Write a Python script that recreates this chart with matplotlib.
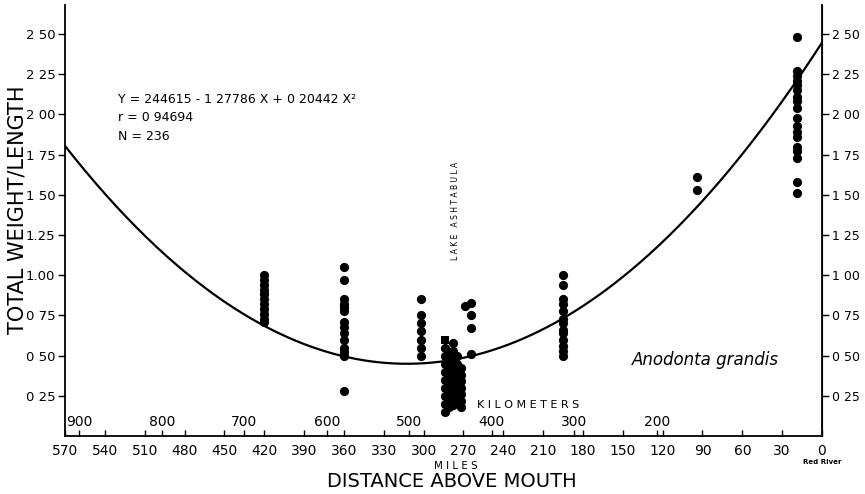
import numpy as np
from matplotlib import pyplot as plt

# curve coefficients as printed on the chart (X in hundreds of miles)
coef = [2.44615, -1.27786, 0.20442]

# data columns: distance above mouth (miles) and total weight / length
miles = (
  [420] * 11 + [360] * 14 + [302] * 7
  + [284] * 9 + [281] * 8 + [278] * 10 + [275] * 8 + [272] * 7
  + [269, 264, 264, 264, 264]
  + [195] * 13 + [94, 94] + [19] * 18
)
ratio = (
  [1.00, 0.97, 0.94, 0.91, 0.88, 0.85, 0.82, 0.79, 0.76, 0.73, 0.71]
  + [1.05, 0.97, 0.85, 0.82, 0.80, 0.78, 0.71, 0.68, 0.64, 0.60, 0.55, 0.52, 0.50, 0.28]
  + [0.85, 0.75, 0.70, 0.65, 0.60, 0.55, 0.50]
  + [0.55, 0.50, 0.45, 0.40, 0.35, 0.30, 0.25, 0.20, 0.15]
  + [0.52, 0.47, 0.42, 0.38, 0.33, 0.28, 0.23, 0.18]
  + [0.58, 0.53, 0.48, 0.44, 0.39, 0.35, 0.31, 0.27, 0.22, 0.19]
  + [0.50, 0.45, 0.41, 0.37, 0.33, 0.29, 0.25, 0.21]
  + [0.42, 0.38, 0.34, 0.30, 0.26, 0.22, 0.18]
  + [0.81, 0.83, 0.75, 0.67, 0.51]
  + [1.00, 0.94, 0.85, 0.82, 0.78, 0.73, 0.70, 0.66, 0.64, 0.60, 0.56, 0.53, 0.50]
  + [1.61, 1.53]
  + [2.48, 2.27, 2.24, 2.21, 2.18, 2.15, 2.11, 2.08, 2.04, 1.98, 1.93, 1.89,
     1.86, 1.80, 1.77, 1.73, 1.58, 1.51]
)
# one square symbol at the top of the Lake Ashtabula cluster
sq_miles = [284]
sq_ratio = [0.60]

y_ticks = [0.25, 0.50, 0.75, 1.00, 1.25, 1.50, 1.75, 2.00, 2.25, 2.50]
y_labels_left = ["0 25", "0 50", "0 75", "1.00", "1.25", "1 50", "1 75", "2 00", "2 25", "2 50"]
y_labels_right = ["0 25", "0 50", "0 75", "1 00", "1 25", "1 50", "1 75", "2 00", "2 25", "2 50"]
mile_ticks = list(range(570, -1, -30))
km_ticks = [900, 800, 700, 600, 500, 400, 300, 200]

KM_PER_MILE = 1.609344

plt.rcParams['font.family'] = 'DejaVu Sans'

fig = plt.figure(figsize=(8.65, 4.94), dpi=100)
ax = fig.add_axes([65 / 865, 1 - 436 / 494, (822 - 65) / 865, (436 - 5) / 494])

# fitted curve
xs = np.linspace(570, 0, 300)
X = xs / 100
ax.plot(xs, coef[0] + coef[1] * X + coef[2] * X ** 2, color='black', lw=1.6)

ax.scatter(miles, ratio, s=44, color='black', zorder=3, linewidths=0)
ax.scatter(sq_miles, sq_ratio, s=40, marker='s', color='black', zorder=3, linewidths=0)

ax.set_xlim(570, 0)
ax.set_ylim(0, 2.68)
ax.spines['top'].set_visible(False)
for s in ax.spines.values():
  s.set_linewidth(1.3)

ax.set_xticks(mile_ticks)
ax.set_xticklabels([str(m) for m in mile_ticks], fontsize=10)
ax.tick_params(axis='x', direction='in', length=4, width=1, pad=6)

ax.set_yticks(y_ticks)
ax.set_yticklabels(y_labels_left, fontsize=9.5)
ax.tick_params(axis='y', direction='out', length=5, width=1, pad=2)
ax.set_ylabel("TOTAL WEIGHT/LENGTH", fontsize=15)
ax.yaxis.set_label_coords(-0.05, 0.524)

right = ax.secondary_yaxis('right')
right.set_yticks(y_ticks)
right.set_yticklabels(y_labels_right, fontsize=9)
right.tick_params(direction='out', length=5, width=1, pad=2)

# kilometre scale drawn inside the bottom axis
km = ax.secondary_xaxis('bottom', functions=(lambda m: m * KM_PER_MILE,
                                             lambda k: k / KM_PER_MILE))
km.set_xticks(km_ticks)
km.set_xticklabels([str(k) for k in km_ticks], fontsize=10)
km.tick_params(direction='in', length=4, width=1, pad=-15)
km.spines['bottom'].set_visible(False)

ax.text(530, 2.09, "Y = 244615 - 1 27786 X + 0 20442 X²", fontsize=9, va='center')
ax.text(530, 1.98, "r = 0 94694", fontsize=9, va='center')
ax.text(530, 1.86, "N = 236", fontsize=9, va='center')
ax.text(276, 1.40, "L A K E   A S H T A B U L A", fontsize=5.5, rotation=90,
        ha='center', va='center')
ax.text(260, 0.19, "K I L O M E T E R S", fontsize=8, va='center')
ax.text(143, 0.47, "Anodonta grandis", fontsize=12, style='italic', va='center')

fig.text(822 / 865, 1 - 462 / 494, "Red River", fontsize=5, ha='center', va='center',
         fontweight='bold')
fig.text(456 / 865, 1 - 466 / 494, "M I L E S", fontsize=7.5, ha='center', va='center')
fig.text(452 / 865, 1 - 481 / 494, "DISTANCE ABOVE MOUTH", fontsize=14,
         ha='center', va='center')

fig.savefig("out.png", dpi=100)
